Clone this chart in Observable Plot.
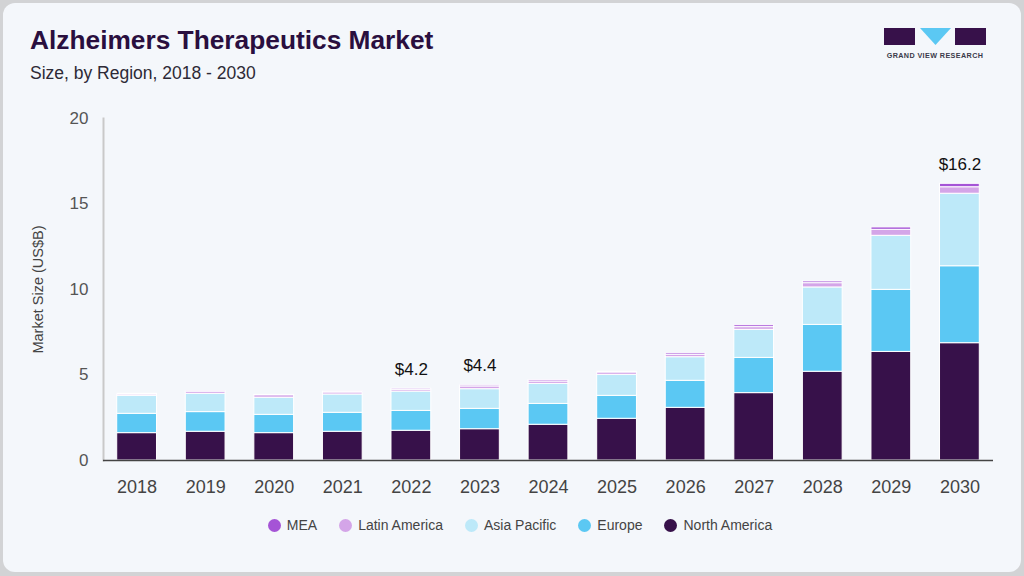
<!DOCTYPE html>
<html>
<head>
<meta charset="utf-8">
<script src="https://cdn.jsdelivr.net/npm/d3@7"></script>
<script src="https://cdn.jsdelivr.net/npm/@observablehq/plot@0.6"></script>
<style>
  html, body { margin: 0; padding: 0; background: #d2d3d5; }
  body { width: 1024px; height: 576px; overflow: hidden; font-family: "Liberation Sans", Arial, sans-serif; }
  #card { position: absolute; left: 3px; top: 3px; width: 1018px; height: 569px; background: #f4f7fb; border-radius: 12px; }
  #title { position: absolute; left: 30px; top: 25px; font-size: 26.3px; font-weight: bold; color: #2a0f3f; }
  #subtitle { position: absolute; left: 30px; top: 63px; font-size: 17.5px; color: #2d2a36; }
  #chart { position: absolute; left: 0; top: 100px; }
  #legend { position: absolute; left: 8px; width: 1024px; top: 517px; display: flex; justify-content: center; gap: 22px; font-size: 14px; color: #444; }
  #legend .item { display: flex; align-items: center; gap: 6px; }
  #legend .sw { width: 13px; height: 13px; border-radius: 50%; display: inline-block; }
  #logo { position: absolute; left: 884px; top: 28px; }
</style>
</head>
<body>
<div id="card"></div>
<div id="title">Alzheimers Therapeutics Market</div>
<div id="subtitle">Size, by Region, 2018 - 2030</div>
<svg id="logo" width="102" height="34">
  <rect x="0" y="0" width="31" height="17" fill="#37114a"/>
  <polygon points="36,0 67,0 51.5,17" fill="#5bc8f3"/>
  <rect x="71" y="0" width="31" height="17" fill="#37114a"/>
  <text x="51" y="30" text-anchor="middle" font-family="Liberation Sans, Arial" font-weight="bold" font-size="7.2" fill="#3a3a4a" letter-spacing="0.4">GRAND VIEW RESEARCH</text>
</svg>
<div id="chart"></div>
<div id="legend"></div>
<script>
const years = ["2018","2019","2020","2021","2022","2023","2024","2025","2026","2027","2028","2029","2030"];
const northAmerica = [1.60,1.68,1.60,1.68,1.74,1.83,2.09,2.44,3.08,3.94,5.19,6.35,6.86];
const europe       = [1.13,1.15,1.07,1.11,1.16,1.19,1.22,1.34,1.58,2.06,2.74,3.63,4.50];
const asiaPacific  = [1.05,1.07,1.00,1.07,1.13,1.15,1.17,1.23,1.38,1.64,2.19,3.16,4.24];
const latinAmerica = [0.08,0.12,0.15,0.12,0.10,0.16,0.14,0.14,0.14,0.16,0.25,0.35,0.38];
const mea          = [0.04,0.03,0.02,0.06,0.07,0.07,0.08,0.04,0.09,0.11,0.10,0.14,0.20];

const regions = ["North America","Europe","Asia Pacific","Latin America","MEA"];
const colors  = ["#37114a","#5bc8f3","#bde9f9","#d4a5e8","#a554d6"];
const legendOrder = ["MEA","Latin America","Asia Pacific","Europe","North America"];

const labelYears  = ["2022","2023","2030"];
const labelValues = [4.2, 4.4, 16.2];
const yTicks = [0,5,10,15,20];

const series = [northAmerica, europe, asiaPacific, latinAmerica, mea];
const rows = [];
regions.forEach((r, i) => years.forEach((y, j) => rows.push({year: y, region: r, value: series[i][j]})));
const totals = years.map((y, j) => ({year: y, total: series.reduce((s, a) => s + a[j], 0)}));
const labels = labelYears.map((y, i) => ({year: y, label: "$" + labelValues[i].toFixed(1), total: totals.find(t => t.year === y).total}));

const chart = Plot.plot({
  width: 1024,
  height: 410,
  marginLeft: 103,
  marginRight: 31,
  marginTop: 18,
  marginBottom: 50,
  style: {background: "transparent", fontFamily: "Liberation Sans, Arial, sans-serif"},
  x: {type: "band", domain: years, paddingInner: 0.42, paddingOuter: 0.2, round: false, label: null},
  y: {domain: [0, 20], label: null},
  color: {domain: regions, range: colors},
  marks: [
    Plot.frame({anchor: "left", stroke: "#c9c9c9", strokeWidth: 2}),
    Plot.barY(rows, Plot.stackY({x: "year", y: "value", fill: "region", order: regions, stroke: "#ffffff", strokeWidth: 1})),
    Plot.ruleY([0], {stroke: "#444", strokeWidth: 1.5}),
    Plot.axisY({ticks: yTicks, tickSize: 0, tickPadding: 15, fontSize: 17, color: "#555", label: null}),
    Plot.axisX({tickSize: 0, tickPadding: 20, fontSize: 18, color: "#444", label: null}),
    Plot.text(["Market Size (US$B)"], {text: d => d, frameAnchor: "left", textAnchor: "middle", rotate: -90, dx: -65, fontSize: 14.5, fill: "#444"}),
    Plot.text(labels, {x: "year", y: "total", text: "label", lineAnchor: "bottom", dy: -14, fontSize: 17, fill: "#111"})
  ]
});
document.getElementById("chart").appendChild(chart);

const legend = document.getElementById("legend");
legendOrder.forEach(r => {
  const it = document.createElement("div");
  it.className = "item";
  const sw = document.createElement("span");
  sw.className = "sw";
  sw.style.background = colors[regions.indexOf(r)];
  const t = document.createElement("span");
  t.textContent = r;
  it.appendChild(sw); it.appendChild(t);
  legend.appendChild(it);
});
</script>
</body>
</html>
